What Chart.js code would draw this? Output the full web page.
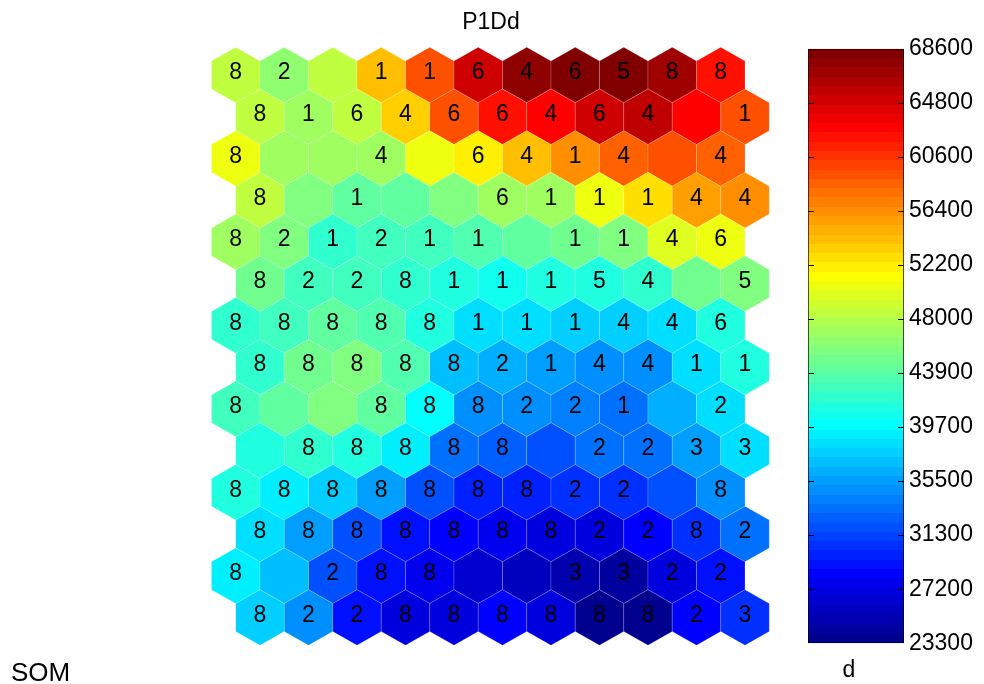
<!DOCTYPE html>
<html lang="en">
<head>
  <meta charset="UTF-8">
  <title>P1Dd</title>
  <script src="https://cdn.jsdelivr.net/npm/chart.js@4"></script>
  <style>
    html, body { margin: 0; padding: 0; background: #fff; }
    body {
      width: 984px; height: 684px;
      position: relative; overflow: hidden;
      font-family: "Liberation Sans", Arial, sans-serif;
    }
    #somMap { position: absolute; left: 0; top: 0; }
    #colorBar { position: absolute; left: 808px; top: 30px; }
    .txt {
      position: absolute;
      font-size: 23px; line-height: 23px;
      color: #000; white-space: nowrap;
    }
  </style>
</head>
<body>

<canvas id="somMap" width="984" height="684"></canvas>
<canvas id="colorBar" width="176" height="632"></canvas>
<div class="txt" style="left:391px;top:10px;width:200px;text-align:center">P1Dd</div>
<div class="txt" style="left:11px;top:659px;font-size:26px;line-height:26px">SOM</div>
<div class="txt" style="left:799px;top:658px;width:100px;text-align:center">d</div>

<script>
  // map size: 14 rows x 11 columns, hexagonal lattice
  const gridRows = 14;
  const gridCols = 11;

  // colour range of the component plane
  const dMin = 23300;
  const dMax = 68600;
  const barTicks = ['23300', '27200', '31300', '35500', '39700', '43900',
                    '48000', '52200', '56400', '60600', '64800', '68600'];

  // d value per unit, row by row
  const dValues = [
    [48200, 46400, 48200, 53900, 59300, 64500, 67200, 68600, 68500, 66800, 61600],
    [48400, 47100, 48400, 53700, 59300, 61600, 62700, 64500, 65200, 62300, 59300],
    [50900, 47100, 46900, 47100, 50300, 52300, 53900, 55900, 58400, 59300, 58600],
    [48400, 45300, 44100, 43900, 45300, 46900, 47300, 50300, 53000, 55500, 55900],
    [46900, 45300, 42300, 42800, 42800, 43500, 43900, 44600, 45900, 49600, 50300],
    [44600, 43000, 43000, 42100, 41400, 40300, 41400, 41400, 42100, 44800, 45500],
    [42100, 43000, 44100, 43500, 41400, 38700, 38500, 38000, 37800, 38700, 41400],
    [42300, 44800, 45500, 43500, 37300, 36700, 36000, 35100, 35300, 38200, 41000],
    [43000, 44100, 45500, 43900, 39600, 35300, 35100, 34600, 33900, 36400, 38700],
    [41600, 42100, 41600, 38900, 33300, 32800, 32400, 33300, 33500, 36000, 38200],
    [41400, 38900, 37800, 35500, 32400, 30300, 30100, 31000, 31000, 31900, 35100],
    [38500, 35500, 32400, 29600, 28300, 27600, 26900, 26900, 28300, 30800, 33300],
    [39200, 37300, 32400, 29000, 27600, 26700, 26100, 25100, 24700, 26900, 29600],
    [38000, 35100, 29600, 27200, 27200, 28700, 27400, 24000, 23700, 28300, 31000]
  ];

  // label written in each unit ('' = none)
  const unitLabels = [
    ['8', '2', '',  '1', '1', '6', '4', '6', '5', '8', '8'],
    ['8', '1', '6', '4', '6', '6', '4', '6', '4', '',  '1'],
    ['8', '',  '',  '4', '',  '6', '4', '1', '4', '',  '4'],
    ['8', '',  '1', '',  '',  '6', '1', '1', '1', '4', '4'],
    ['8', '2', '1', '2', '1', '1', '',  '1', '1', '4', '6'],
    ['8', '2', '2', '8', '1', '1', '1', '5', '4', '',  '5'],
    ['8', '8', '8', '8', '8', '1', '1', '1', '4', '4', '6'],
    ['8', '8', '8', '8', '8', '2', '1', '4', '4', '1', '1'],
    ['8', '',  '',  '8', '8', '8', '2', '2', '1', '',  '2'],
    ['',  '8', '8', '8', '8', '8', '',  '2', '2', '3', '3'],
    ['8', '8', '8', '8', '8', '8', '8', '2', '2', '',  '8'],
    ['8', '8', '8', '8', '8', '8', '8', '2', '2', '8', '2'],
    ['8', '',  '2', '8', '8', '',  '',  '3', '3', '2', '2'],
    ['8', '2', '2', '8', '8', '8', '8', '8', '8', '2', '3']
  ];

  Chart.defaults.font.family = '"Liberation Sans", Arial, sans-serif';

  // matlab jet(64)
  function jetColor(k) {
    const u = j => j < 1 || j > 47 ? 0 : (j <= 16 ? j / 16 : (j <= 31 ? 1 : (48 - j) / 16));
    const r = k >= 25 ? u(k - 24) : 0;
    const g = (k >= 9 && k <= 55) ? u(k - 8) : 0;
    const b = k <= 39 ? u(k + 8) : 0;
    return 'rgb(' + Math.round(r * 255) + ',' + Math.round(g * 255) + ',' + Math.round(b * 255) + ')';
  }
  function colorFor(v) {
    let k = Math.floor((v - dMin) / (dMax - dMin) * 64) + 1;
    k = Math.max(1, Math.min(64, k));
    return jetColor(k);
  }

  const units = [];
  for (let r = 0; r < gridRows; r++) {
    for (let c = 0; c < gridCols; c++) {
      units.push({ x: c + (r % 2) * 0.5, y: r, v: dValues[r][c], label: unitLabels[r][c] });
    }
  }

  const hexPlugin = {
    id: 'hexes',
    afterDatasetsDraw(chart) {
      const ctx = chart.ctx;
      const xs = chart.scales.x, ys = chart.scales.y;
      const hw = (xs.getPixelForValue(1) - xs.getPixelForValue(0)) / 2;
      const R = Math.abs(ys.getPixelForValue(1) - ys.getPixelForValue(0)) / 1.5;
      const meta = chart.getDatasetMeta(0);
      ctx.save();
      meta.data.forEach((pt, i) => {
        const u = units[i];
        ctx.beginPath();
        ctx.moveTo(pt.x, pt.y - R);
        ctx.lineTo(pt.x + hw, pt.y - R / 2);
        ctx.lineTo(pt.x + hw, pt.y + R / 2);
        ctx.lineTo(pt.x, pt.y + R);
        ctx.lineTo(pt.x - hw, pt.y + R / 2);
        ctx.lineTo(pt.x - hw, pt.y - R / 2);
        ctx.closePath();
        ctx.fillStyle = colorFor(u.v);
        ctx.fill();
        ctx.strokeStyle = 'rgba(255,255,255,0.25)';
        ctx.lineWidth = 0.7;
        ctx.stroke();
      });
      ctx.fillStyle = '#000';
      ctx.font = '23px "Liberation Sans", Arial, sans-serif';
      ctx.textAlign = 'center';
      ctx.textBaseline = 'middle';
      meta.data.forEach((pt, i) => {
        if (units[i].label) ctx.fillText(units[i].label, pt.x, pt.y - 2);
      });
      ctx.restore();
    }
  };

  new Chart(document.getElementById('somMap'), {
    type: 'scatter',
    data: { datasets: [{ data: units, pointRadius: 0, pointHoverRadius: 0 }] },
    options: {
      responsive: false,
      animation: false,
      events: [],
      layout: { padding: 0 },
      plugins: { legend: { display: false }, tooltip: { enabled: false } },
      scales: {
        x: { type: 'linear', display: false, min: -4.8608, max: 15.428 },
        y: { type: 'linear', display: false, reverse: true, min: -1.7973, max: 14.5938 }
      }
    },
    plugins: [hexPlugin]
  });

  function jetGradient(chart) {
    const area = chart.chartArea;
    if (!area) return '#000';
    const g = chart.ctx.createLinearGradient(0, area.bottom, 0, area.top);
    for (let k = 0; k < 64; k++) {
      const col = jetColor(k + 1);
      g.addColorStop(k / 64, col);
      g.addColorStop(Math.min(1, (k + 1) / 64 - 0.0001), col);
    }
    return g;
  }

  const innerTicks = {
    id: 'innerTicks',
    afterDatasetsDraw(chart) {
      const ctx = chart.ctx;
      const s = chart.scales.y;
      const a = chart.chartArea;
      ctx.save();
      ctx.strokeStyle = '#000';
      ctx.lineWidth = 1;
      s.ticks.forEach((t, i) => {
        if (i === 0 || i === s.ticks.length - 1) return;
        const y = Math.round(s.getPixelForValue(t.value)) + 0.5;
        ctx.beginPath();
        ctx.moveTo(a.left, y); ctx.lineTo(a.left + 6, y);
        ctx.moveTo(a.right - 6, y); ctx.lineTo(a.right, y);
        ctx.stroke();
      });
      ctx.restore();
    }
  };

  new Chart(document.getElementById('colorBar'), {
    type: 'bar',
    data: {
      labels: ['d'],
      datasets: [{
        data: [[dMin, dMax]],
        backgroundColor: c => jetGradient(c.chart),
        borderColor: '#000',
        borderWidth: 1,
        borderSkipped: false,
        barPercentage: 1,
        categoryPercentage: 1
      }]
    },
    options: {
      responsive: false,
      animation: false,
      events: [],
      layout: { padding: { top: 16, bottom: 16, left: 0, right: 0 } },
      plugins: { legend: { display: false }, tooltip: { enabled: false } },
      scales: {
        x: { display: false },
        y: {
          position: 'right',
          min: dMin,
          max: dMax,
          afterBuildTicks: s => {
            s.ticks = barTicks.map((t, i) => ({ value: dMin + i * (dMax - dMin) / (barTicks.length - 1) }));
          },
          afterFit: s => { s.width = 80; },
          ticks: {
            autoSkip: false,
            callback: (v, i) => barTicks[i],
            color: '#000',
            font: { size: 23 },
            padding: 5
          },
          grid: { display: false, drawTicks: false },
          border: { display: false }
        }
      }
    },
    plugins: [innerTicks]
  });
</script>

</body>
</html>
